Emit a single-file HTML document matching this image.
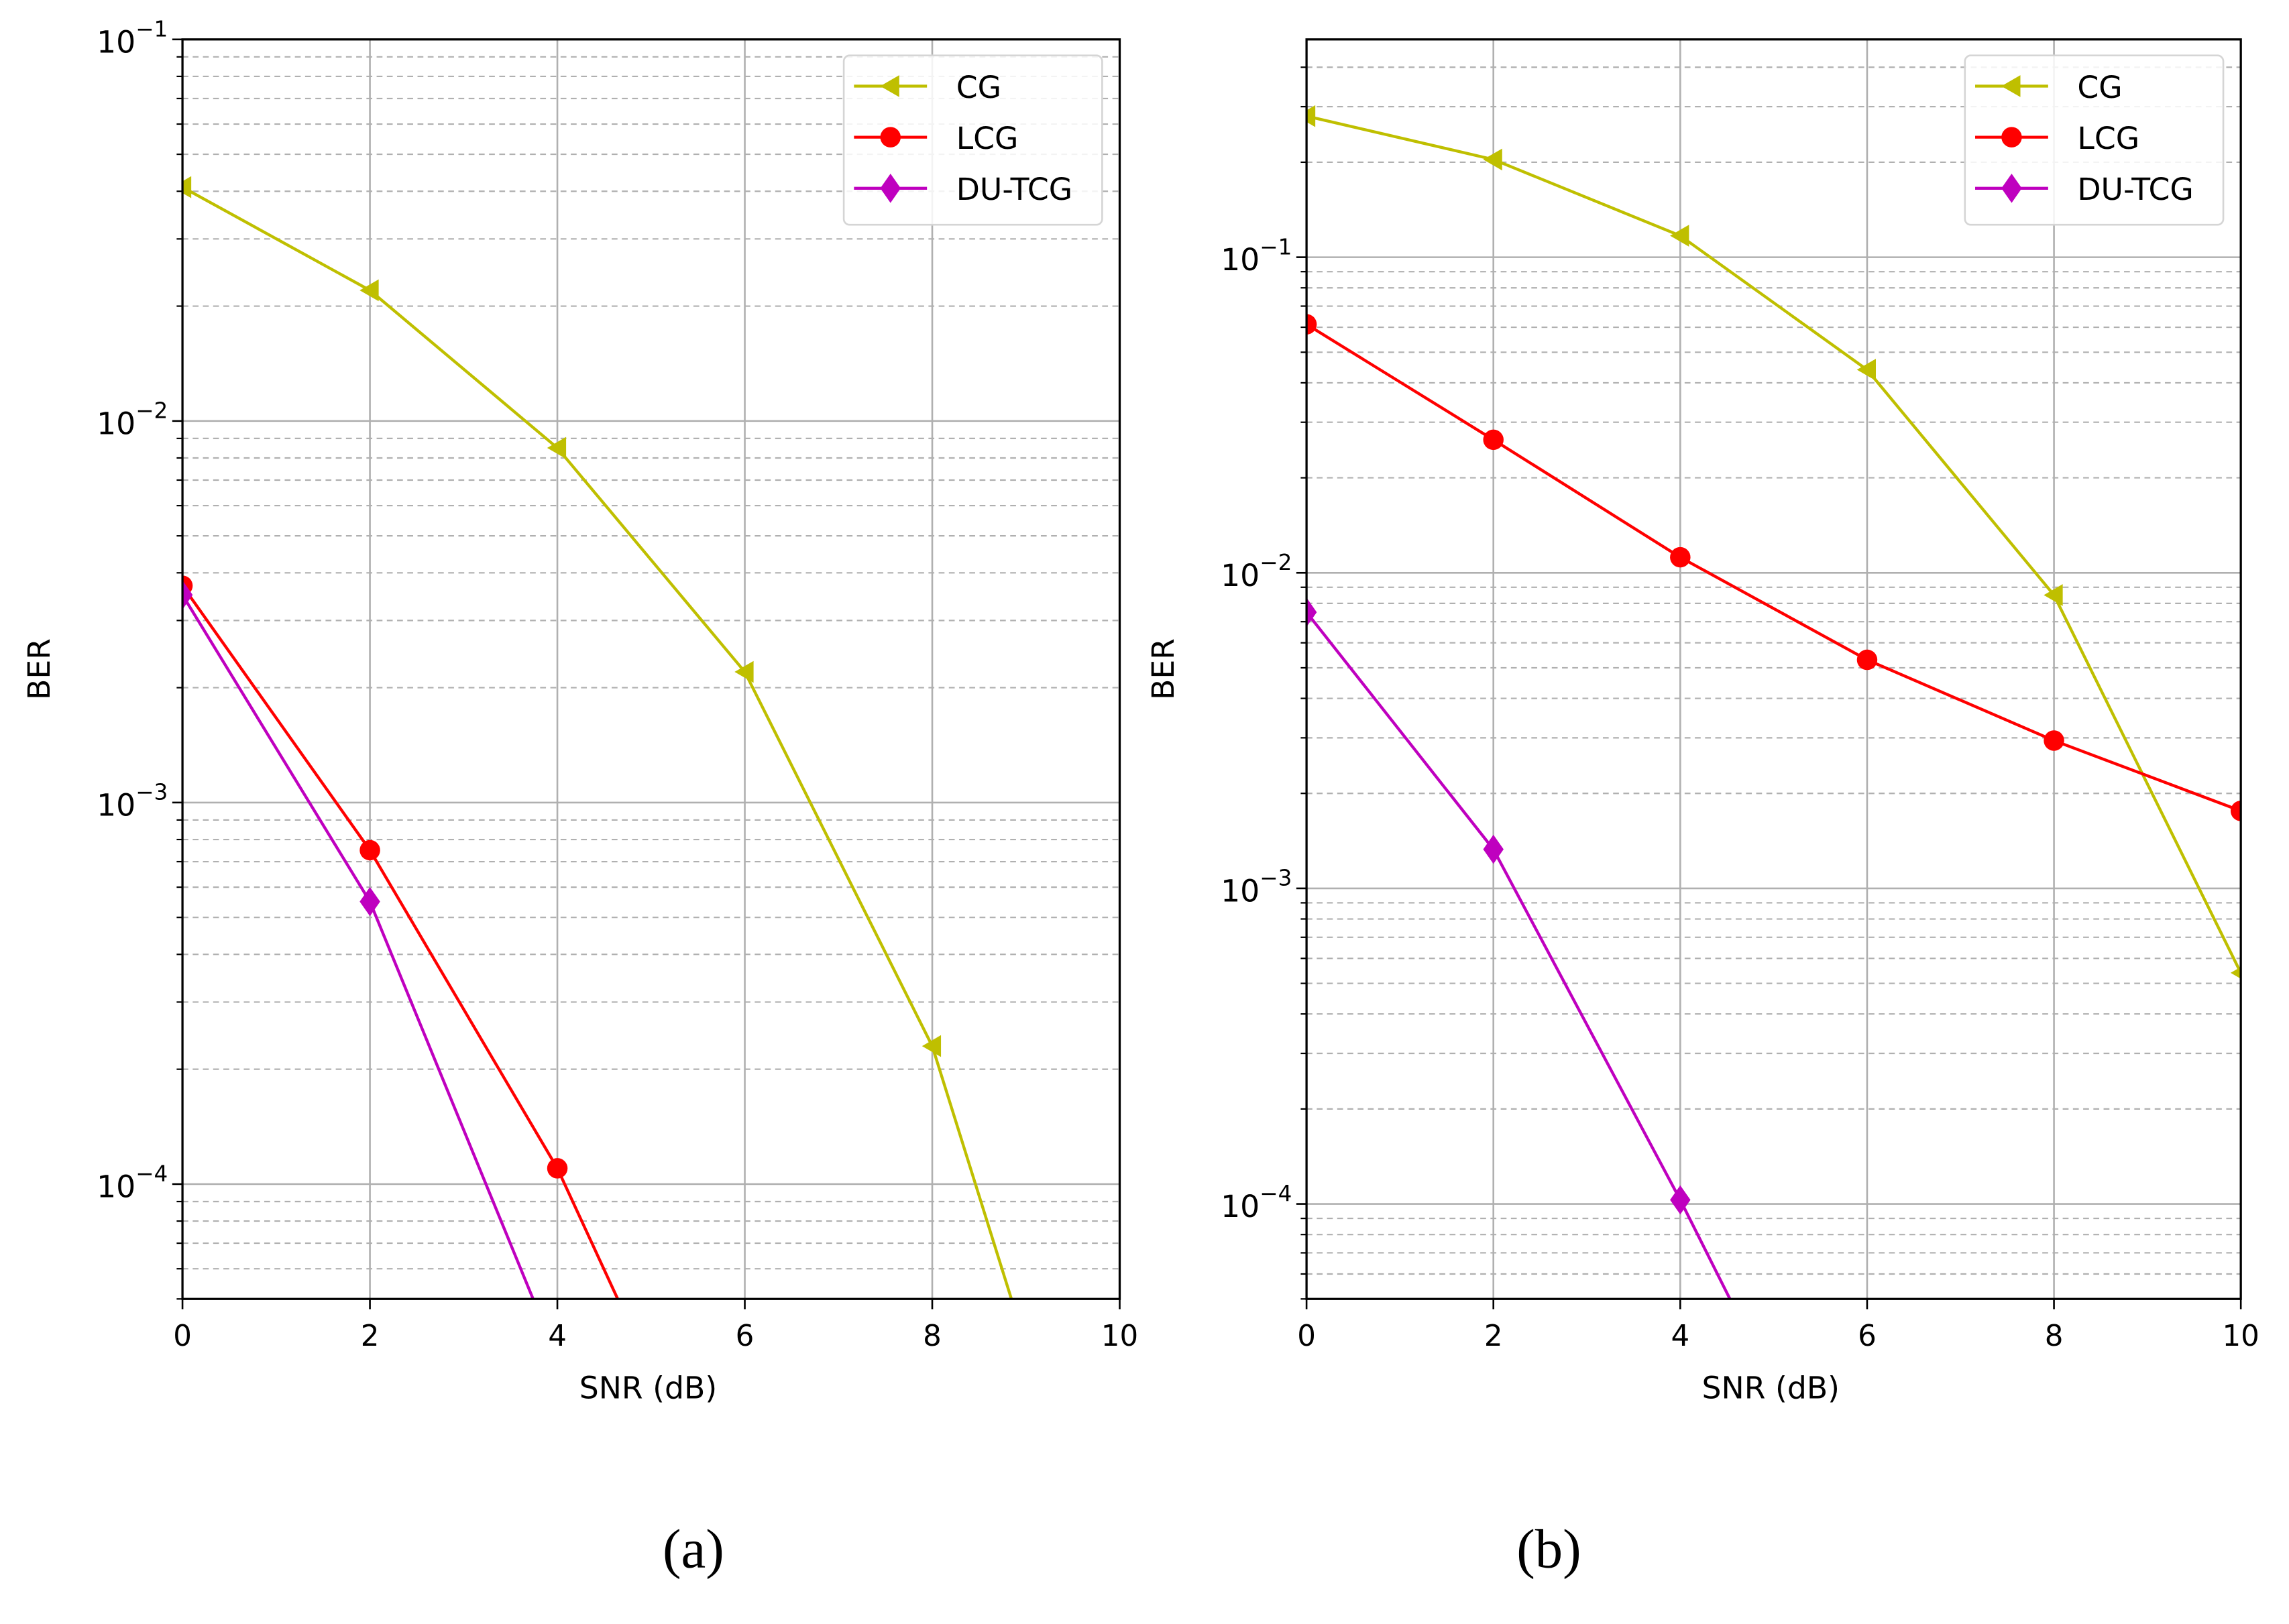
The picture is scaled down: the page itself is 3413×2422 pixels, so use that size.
<!DOCTYPE html>
<html><head><meta charset="utf-8"><style>
html,body{margin:0;padding:0;background:#fff;}
svg{display:block;}
text{font-family:"DejaVu Sans","Liberation Sans",sans-serif;}
</style></head><body>
<svg id="fig" xmlns="http://www.w3.org/2000/svg" width="3413" height="2422" viewBox="0 0 1568 1112.7">
<rect width="1568" height="1113" fill="#fff"/>
<text x="475" y="1074" font-size="38" text-anchor="middle" style="font-family:'Liberation Serif',serif">(a)</text>
<text x="1061" y="1074" font-size="38" text-anchor="middle" style="font-family:'Liberation Serif',serif">(b)</text>
</svg>
<script>
const snr = [0, 2, 4, 6, 8, 10];
const aCG   = [0.041, 0.022, 0.0085, 0.0022, 0.00023, 0.0000062];
const aLCG  = [0.0037, 0.00075, 0.00011, 0.0000095];
const aDU   = [0.0035, 0.00055, 0.000035];
const bCG   = [0.28, 0.204, 0.117, 0.044, 0.0085, 0.00054];
const bLCG  = [0.0613, 0.0264, 0.0112, 0.0053, 0.00294, 0.00176];
const bDU   = [0.0075, 0.00133, 0.000103, 0.0000068];
const xTicks = [0, 2, 4, 6, 8, 10];
const seriesNames = ['CG', 'LCG', 'DU-TCG'];

const NS = 'http://www.w3.org/2000/svg';
const svg = document.getElementById('fig');
function mk(tag, attrs, parent) {
  const e = document.createElementNS(NS, tag);
  for (const k in attrs) e.setAttribute(k, attrs[k]);
  (parent || svg).appendChild(e);
  return e;
}
const colors = ['#bfbf00', '#ff0000', '#bf00bf'];

function marker(g, kind, x, y, c) {
  let m;
  if (kind === 0) m = mk('polygon', {points: `${x-7},${y} ${x+6},${y-7.5} ${x+6},${y+7.5}`, fill: c}, g);
  else if (kind === 1) m = mk('circle', {cx: x, cy: y, r: 7, fill: c}, g);
  else m = mk('polygon', {points: `${x},${y-10} ${x+7},${y} ${x},${y+10} ${x-7},${y}`, fill: c}, g);
  return m;
}

function panel(id, L, R, T, B, ymin, ymax, decs, series) {
  const g = mk('g', {});
  
  
  const lmin = Math.log10(ymin), lmax = Math.log10(ymax);
  const X = v => L + (v - 0) / 10 * (R - L);
  const Y = v => T + (lmax - Math.log10(v)) / (lmax - lmin) * (B - T);
  const clipId = 'clip' + id;
  const cp = mk('clipPath', {id: clipId}, g);
  mk('rect', {x: L, y: T, width: R - L, height: B - T}, cp);
  for (let d = -6; d <= 0; d++) {
    for (let k = 2; k <= 9; k++) {
      const v = k * Math.pow(10, d);
      if (v < ymin || v > ymax) continue;
      const y = Y(v);
      const ln = mk('line', {x1: L, x2: R, y1: y, y2: y, stroke: '#b0b0b0', 'stroke-width': 1, 'stroke-dasharray': '4,3'}, g);
      
      
      mk('line', {x1: L - 4, x2: L, y1: y, y2: y, stroke: '#000', 'stroke-width': 1}, g);
    }
  }
  decs.forEach(d => {
    const y = Y(Math.pow(10, d));
    const ln = mk('line', {x1: L, x2: R, y1: y, y2: y, stroke: '#b0b0b0', 'stroke-width': 1.2}, g);
    
    
    mk('line', {x1: L - 7, x2: L, y1: y, y2: y, stroke: '#000', 'stroke-width': 1.2}, g);
    const t = mk('text', {x: L - 10, y: y + 9, 'font-size': 21, 'text-anchor': 'end', fill: '#000'}, g);
    
    
    t.textContent = '10';
    const s = mk('tspan', {dy: -11, 'font-size': 15}, t);
    s.textContent = '\u2212' + (-d);
  });
  xTicks.forEach(v => {
    const x = X(v);
    const ln = mk('line', {x1: x, x2: x, y1: T, y2: B, stroke: '#b0b0b0', 'stroke-width': 1.2}, g);
    
    
    mk('line', {x1: x, x2: x, y1: B, y2: B + 7, stroke: '#000', 'stroke-width': 1.2}, g);
    const t = mk('text', {x: x, y: B + 32, 'font-size': 20, 'text-anchor': 'middle', fill: '#000'}, g);
    
    
    t.textContent = v;
  });
  series.forEach((vals, si) => {
    const sg = mk('g', {'clip-path': `url(#${clipId})`}, g);
    
    
    const pts = vals.map((v, i) => `${X(snr[i])},${Y(v)}`).join(' ');
    mk('polyline', {points: pts, fill: 'none', stroke: colors[si], 'stroke-width': 2}, sg);
    vals.forEach((v, i) => {
      const m = marker(sg, si, X(snr[i]), Y(v), colors[si]);
      
      
    });
  });
  const fr = mk('rect', {x: L, y: T, width: R - L, height: B - T, fill: 'none', stroke: '#000', 'stroke-width': 1.5}, g);
  
  
  const xl = mk('text', {x: (L + R) / 2 - 2, y: B + 68, 'font-size': 21, 'text-anchor': 'middle'}, g);
  
  
  xl.textContent = 'SNR (dB)';
  const yl = mk('text', {x: 0, y: 0, 'font-size': 21, 'text-anchor': 'middle', transform: `translate(${L - 91},${(T + B) / 2}) rotate(-90)`}, g);
  
  
  yl.textContent = 'BER';
  const lg = mk('g', {}, g);
  
  
  const lx = R - 189, ly = T + 11;
  mk('rect', {x: lx, y: ly, width: 177, height: 116, rx: 4, fill: '#fff', 'fill-opacity': 0.85, stroke: '#d5d5d5', 'stroke-width': 1.2}, lg);
  seriesNames.forEach((n, i) => {
    const yy = ly + 21 + i * 35;
    const e = mk('g', {}, lg);
    
    
    mk('line', {x1: lx + 7, x2: lx + 57, y1: yy, y2: yy, stroke: colors[i], 'stroke-width': 2}, e);
    marker(e, i, lx + 32, yy, colors[i]);
    const t = mk('text', {x: lx + 77, y: yy + 8, 'font-size': 21}, e);
    t.textContent = n;
  });
}

panel('a', 125, 767, 27, 890, 0.00005, 0.1, [-4, -3, -2, -1], [aCG, aLCG, aDU]);
panel('b', 895, 1535, 27, 890, 0.00005, 0.49, [-4, -3, -2, -1], [bCG, bLCG, bDU]);
</script>
</body></html>
